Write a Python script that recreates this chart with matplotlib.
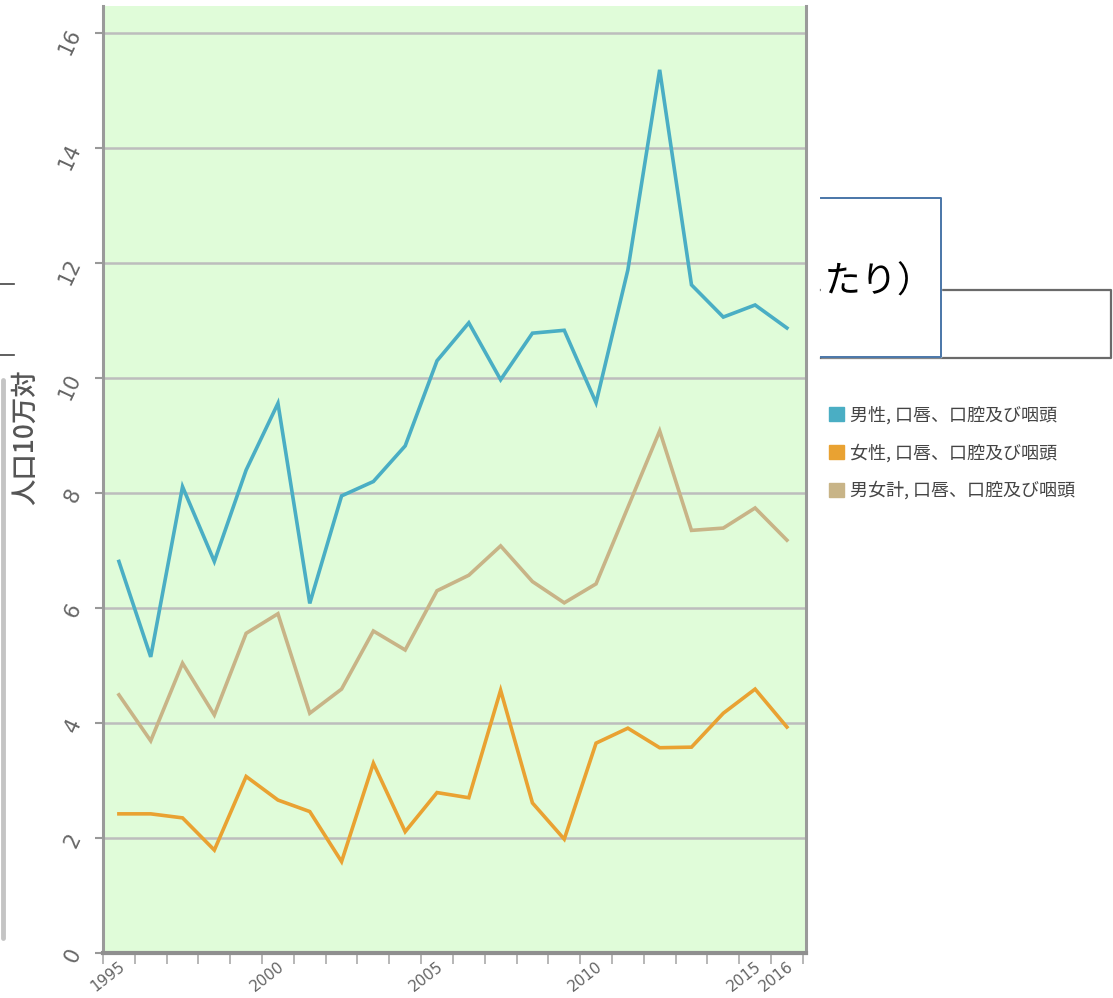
import matplotlib.pyplot as plt
from matplotlib.patches import Patch
from matplotlib.transforms import Bbox

plt.rcParams['font.family'] = ['Noto Sans CJK JP', 'DejaVu Sans']

years = list(range(1995, 2017))
male = [6.81, 5.15, 8.11, 6.81, 8.4, 9.56, 6.08, 7.95, 8.2, 8.82, 10.3,
        10.96, 9.97, 10.78, 10.83, 9.57, 11.88, 15.36, 11.62, 11.06, 11.27, 10.87]
female = [2.42, 2.42, 2.35, 1.79, 3.07, 2.66, 2.46, 1.59, 3.3, 2.11, 2.79,
          2.7, 4.57, 2.61, 1.98, 3.65, 3.91, 3.57, 3.58, 4.17, 4.59, 3.93]
total = [4.49, 3.69, 5.04, 4.14, 5.56, 5.9, 4.17, 4.59, 5.6, 5.27, 6.3,
         6.57, 7.08, 6.46, 6.09, 6.42, 7.75, 9.08, 7.35, 7.39, 7.74, 7.18]
labels = ['男性, 口唇、口腔及び咽頭', '女性, 口唇、口腔及び咽頭', '男女計, 口唇、口腔及び咽頭']
colors = ['#4aaec4', '#e9a232', '#c8b487']
year_ticks = [1995, 2000, 2005, 2010, 2015, 2016]
y_ticks = [0, 2, 4, 6, 8, 10, 12, 14, 16]

W, H = 1113, 998
fig = plt.figure(figsize=(W / 100, H / 100), dpi=100)

# overlay in pixel coordinates for the bits around the chart
deco = fig.add_axes([0, 0, 1, 1], zorder=0)
deco.set_xlim(0, W)
deco.set_ylim(H, 0)
deco.axis('off')

# left fragments
deco.plot([0, 14], [284, 284], color='#444444', lw=1.2)
deco.plot([0, 14], [355, 355], color='#444444', lw=1.2)
deco.plot([2.5, 2.5], [380, 938], color='#c4c4c4', lw=3.5, solid_capstyle='round')

# boxes on the right
deco.plot([821, 1111, 1111, 821], [290, 290, 358, 358], color='#6a6a6a', lw=1.6)
deco.fill_between([821, 941], 198, 357, color='white', zorder=2)
deco.plot([821, 941, 941, 821], [198, 198, 357, 357], color='#4a76a8', lw=1.4, zorder=3)
t = deco.text(934, 283, '人口10万人当たり）', fontsize=26, color='black',
              ha='right', va='center', zorder=4, clip_on=True)
t.set_clip_box(Bbox.from_extents(822, 0, 941, H))

# main chart
ax = fig.add_axes([103 / W, 45 / H, (806 - 103) / W, (992 - 45) / H], zorder=1)
ax.set_facecolor('#e0fcd9')
x = list(range(len(years)))
for vals, c in zip([male, female, total], colors):
    ax.plot(x, vals, color=c, lw=2.6, solid_joinstyle='miter')

ax.set_xlim(-0.47, 21.6)
ax.set_ylim(0, 16.47)
ax.set_yticks(y_ticks)
ax.set_yticklabels([str(v) for v in y_ticks], rotation=65, fontsize=15,
                   color='#666666', family='DejaVu Sans')
ax.yaxis.grid(True, color='#bdbdbd', lw=1.8)
ax.set_axisbelow(True)
ax.tick_params(axis='y', length=6, width=1.5, color='#999999', pad=7)

ax.set_xticks([years.index(y) for y in year_ticks])
ax.set_xticklabels([str(y) for y in year_ticks], rotation=38, ha='right',
                   fontsize=11, color='#666666', family='DejaVu Sans',
                   rotation_mode='anchor')
ax.set_xticks([k - 0.5 for k in range(len(years) + 1)], minor=True)
ax.tick_params(axis='x', which='major', length=0, pad=4)
ax.tick_params(axis='x', which='minor', length=8, width=1.2, color='#aaaaaa')

for s in ['left', 'right']:
    ax.spines[s].set_color('#9a9a9a')
    ax.spines[s].set_linewidth(2.2)
ax.spines['bottom'].set_color('#8f8f8f')
ax.spines['bottom'].set_linewidth(3)
ax.spines['top'].set_visible(False)

ax.set_ylabel('人口10万対', fontsize=19, color='#555555', fontweight='medium')
ax.yaxis.label.set_va('center')
ax.yaxis.set_label_coords(-0.1095, 0.545)

handles = [Patch(facecolor=c, edgecolor=c) for c in colors]
fig.legend(handles, labels, loc='upper left', bbox_to_anchor=(813 / W, 1 - 390 / H),
           frameon=False, fontsize=13, handlelength=0.8, handleheight=0.8,
           handletextpad=0.35, labelspacing=1.05, labelcolor='#444444')

fig.savefig('out.png', dpi=100)
